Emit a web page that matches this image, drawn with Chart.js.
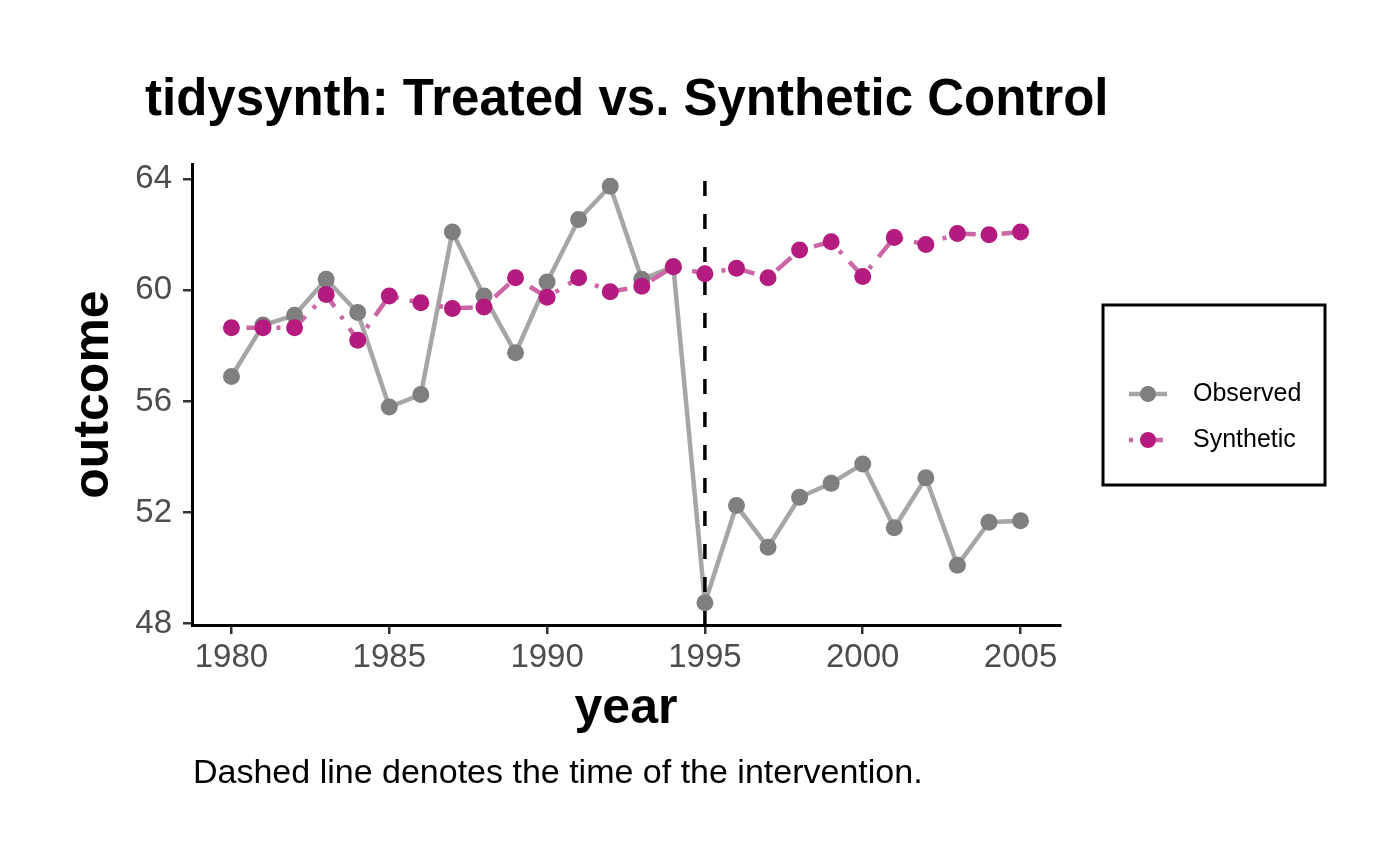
<!DOCTYPE html>
<html>
<head>
<meta charset="utf-8">
<title>tidysynth: Treated vs. Synthetic Control</title>
<script src="https://cdn.jsdelivr.net/npm/chart.js@4.4.1/dist/chart.umd.min.js"></script>
<style>
  html, body { margin: 0; padding: 0; background: #fff; }
  #wrap { width: 1400px; height: 865px; }
</style>
</head>
<body>
<div id="wrap"><canvas id="chart" width="1400" height="865"></canvas></div>
<script>
// values
const years = [1980, 1981, 1982, 1983, 1984, 1985, 1986, 1987, 1988, 1989, 1990, 1991, 1992,
  1993, 1994, 1995, 1996, 1997, 1998, 1999, 2000, 2001, 2002, 2003, 2004, 2005];
const observed = [56.9, 58.75, 59.1, 60.4, 59.2, 55.8, 56.25, 62.1, 59.8, 57.75, 60.3, 62.55, 63.75,
  60.4, 60.85, 48.75, 52.25, 50.75, 52.55, 53.05, 53.75, 51.45, 53.25, 50.1, 51.65, 51.7];
const synthetic = [58.65, 58.65, 58.65, 59.85, 58.2, 59.8, 59.55, 59.35, 59.4, 60.45, 59.75, 60.45, 59.95,
  60.15, 60.85, 60.6, 60.8, 60.45, 61.45, 61.75, 60.5, 61.9, 61.65, 62.05, 62.0, 62.1];
const yearTicks = [1980, 1985, 1990, 1995, 2000, 2005];
const outcomeTicks = [48, 52, 56, 60, 64];
const seriesNames = ['Observed', 'Synthetic'];
const interventionYear = 1995;

const FONT = '"Liberation Sans", Arial, Helvetica, sans-serif';
const obsPoint = '#7f7f7f';
const obsLine = '#a6a6a6';
const synPoint = '#b31b7e';
const synLine = '#cc66a5';
const synDash = [4, 11, 19, 11];

const xy = (vals) => years.map((yr, i) => ({ x: yr, y: vals[i] }));

// title, caption, dashed intervention line and the boxed legend
const decorations = {
  id: 'decorations',
  afterDatasetDraw(chart, args) {
    if (args.index !== 1) return;
    const { ctx, chartArea, scales } = chart;
    const x = scales.x.getPixelForValue(interventionYear);
    ctx.save();
    ctx.strokeStyle = '#000';
    ctx.lineWidth = 3.5;
    ctx.setLineDash([15, 18]);
    ctx.beginPath();
    ctx.moveTo(x, chartArea.bottom);
    ctx.lineTo(x, chartArea.top);
    ctx.stroke();
    ctx.restore();
  },
  afterDraw(chart) {
    const ctx = chart.ctx;
    ctx.save();
    ctx.fillStyle = '#000';
    ctx.textBaseline = 'alphabetic';
    ctx.textAlign = 'left';
    ctx.font = 'bold 51px ' + FONT;
    ctx.fillText('tidysynth: Treated vs. Synthetic Control', 145, 115);
    ctx.font = '34px ' + FONT;
    ctx.fillText('Dashed line denotes the time of the intervention.', 193, 783);

    // legend
    ctx.lineWidth = 3;
    ctx.strokeStyle = '#000';
    ctx.strokeRect(1103, 305, 222, 180);
    const keys = [
      { name: seriesNames[0], y: 394, line: obsLine, point: obsPoint, dash: [] },
      { name: seriesNames[1], y: 440, line: synLine, point: synPoint, dash: synDash }
    ];
    keys.forEach(k => {
      ctx.strokeStyle = k.line;
      ctx.lineWidth = 4.5;
      ctx.setLineDash(k.dash);
      ctx.beginPath();
      ctx.moveTo(1129, k.y);
      ctx.lineTo(1167, k.y);
      ctx.stroke();
      ctx.setLineDash([]);
      ctx.fillStyle = k.point;
      ctx.beginPath();
      ctx.arc(1148, k.y, 8, 0, Math.PI * 2);
      ctx.fill();
      ctx.fillStyle = '#000';
      ctx.font = '25px ' + FONT;
      ctx.textBaseline = 'middle';
      ctx.fillText(k.name, 1193, k.y);
    });
    ctx.restore();
  }
};

new Chart(document.getElementById('chart'), {
  type: 'line',
  data: {
    datasets: [
      { label: seriesNames[0], data: xy(observed), borderColor: obsLine, borderWidth: 4.5,
        pointRadius: 0, order: 4 },
      { label: seriesNames[1], data: xy(synthetic), borderColor: synLine, borderWidth: 4.5,
        borderDash: synDash, pointRadius: 0, order: 3 },
      { label: seriesNames[0], data: xy(observed), showLine: false, pointRadius: 8.5,
        pointBorderWidth: 0, pointBackgroundColor: obsPoint, order: 2 },
      { label: seriesNames[1], data: xy(synthetic), showLine: false, pointRadius: 8.5,
        pointBorderWidth: 0, pointBackgroundColor: synPoint, order: 1 }
    ]
  },
  options: {
    responsive: false,
    animation: false,
    devicePixelRatio: 1,
    layout: { padding: { top: 164, right: 340, left: 0, bottom: 0 } },
    plugins: { legend: { display: false }, tooltip: { enabled: false } },
    scales: {
      x: {
        type: 'linear',
        min: 1978.75,
        max: 2006.25,
        afterFit(scale) { scale.height = 240; },
        afterBuildTicks(scale) { scale.ticks = yearTicks.map(v => ({ value: v })); },
        ticks: { color: '#4d4d4d', font: { family: FONT, size: 33 }, padding: 4,
          maxRotation: 0, autoSkip: false, callback: v => String(v) },
        grid: { drawOnChartArea: false, drawTicks: true, tickLength: 9, color: '#333', lineWidth: 2.5 },
        border: { display: true, color: '#000', width: 3 },
        title: { display: true, text: 'year', color: '#000',
          font: { family: FONT, size: 50, weight: 'bold' }, padding: { top: 0, bottom: 126 } }
      },
      y: {
        type: 'linear',
        min: 47.95,
        max: 64.55,
        afterFit(scale) { scale.width = 192; },
        afterBuildTicks(scale) { scale.ticks = outcomeTicks.map(v => ({ value: v })); },
        ticks: { color: '#4d4d4d', font: { family: FONT, size: 33 }, padding: 11,
          callback: v => String(v) },
        grid: { drawOnChartArea: false, drawTicks: true, tickLength: 9, color: '#333', lineWidth: 2.5 },
        border: { display: true, color: '#000', width: 3 },
        title: { display: true, text: 'outcome', color: '#000',
          font: { family: FONT, size: 50, weight: 'bold' }, padding: { top: 64, bottom: 0 } }
      }
    }
  },
  plugins: [decorations]
});
</script>
</body>
</html>
